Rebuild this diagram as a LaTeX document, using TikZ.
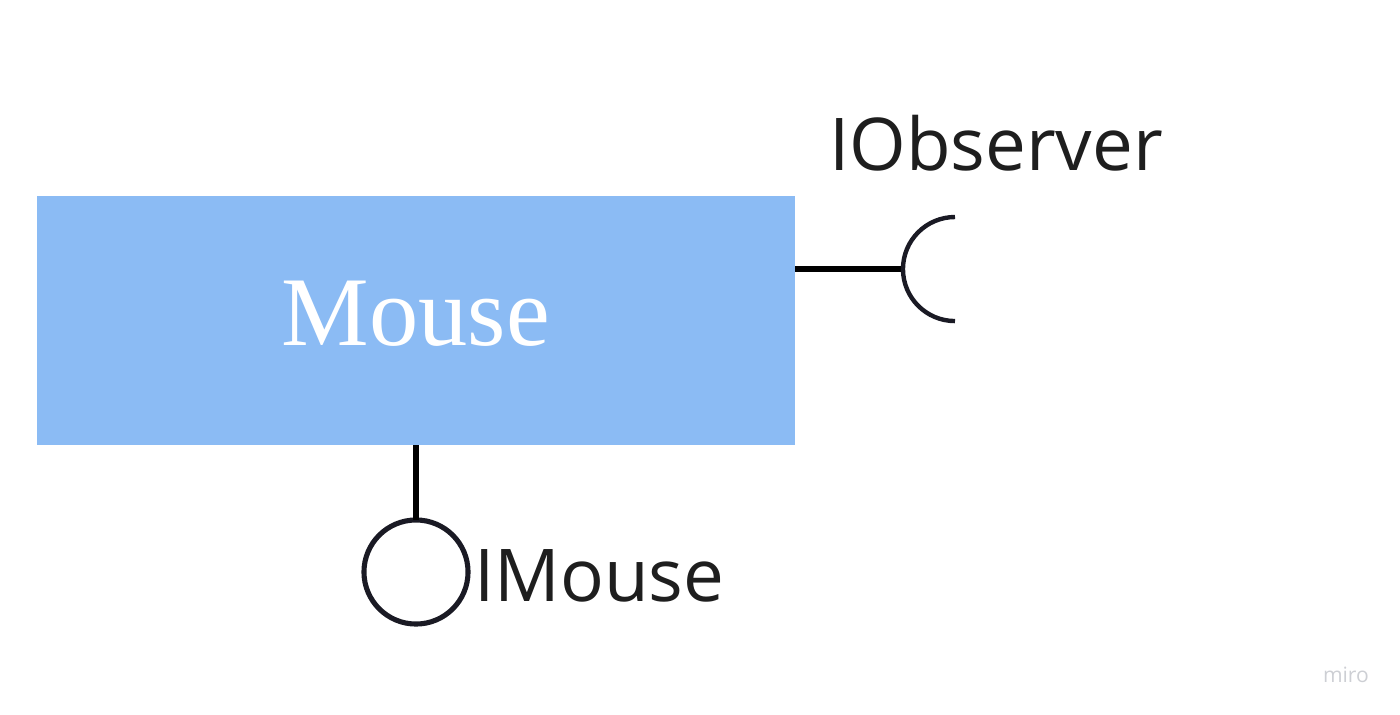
\documentclass[tikz,border=0pt]{standalone}
\usepackage{fontspec}
\setmainfont{Liberation Serif}
\newfontfamily\labelfont{Open Sans}
\usetikzlibrary{positioning}
\definecolor{boxblue}{HTML}{8BBBF4}
\definecolor{linedark}{HTML}{1A1A24}
\definecolor{textdark}{HTML}{1E1E1E}
\definecolor{miromark}{HTML}{CDCFD4}
\tikzstyle{component}=[fill=boxblue, inner sep=0, outer sep=0, minimum width=7.58cm, minimum height=2.49cm,
                       text=white, text depth=0.15cm, font=\fontsize{28}{30}\selectfont]
\tikzstyle{ball}=[circle, draw=linedark, line width=1.45pt, inner sep=0, outer sep=0, minimum size=1.04cm]
\tikzstyle{stick}=[draw=black, line width=1.45pt]
\tikzstyle{ifacelabel}=[inner sep=0, outer sep=0, anchor=base west, text=textdark,
                        font=\labelfont\fontsize{20.7}{24}\selectfont]

\begin{document}
\begin{tikzpicture}[x=0.01cm, y=0.01cm]
        \useasboundingbox (0, 0) rectangle (1400, 714);
        \node[component]                (Mouse) at (416, 393.5) {Mouse};
        % provided interface
        \node[ball]                     (IMouseBall) at (416, 142) {};
        \draw[stick] (Mouse.south) -- (IMouseBall.north);
        \node[ifacelabel]               (IMouseText) at (474, 113) {IMouse};
        % required interface
        \coordinate                     (IObsCenter) at (955, 445);
        \coordinate                     (IObsTip) at (903, 445);
        \draw[stick] (Mouse.east |- IObsTip) -- (IObsTip);
        \draw[linedark, line width=1.25pt] (IObsCenter) ++(0, 52) arc[start angle=90, end angle=270, radius=0.52cm];
        \node[ifacelabel]               (IObsText) at (829, 544) {IObserver};
        \node[ifacelabel, text=miromark, font=\labelfont\fontsize{6}{7}\selectfont] (miro) at (1323, 32) {miro};
    \end{tikzpicture}
\end{document}
